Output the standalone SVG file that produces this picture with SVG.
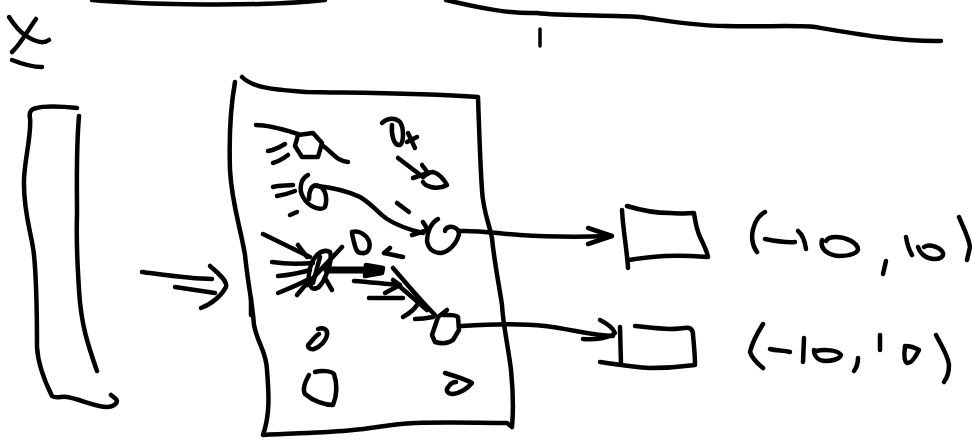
<svg xmlns="http://www.w3.org/2000/svg" width="972" height="440" viewBox="0 0 972 440">
<style>
path{fill:none;stroke:#000;stroke-width:4.5;stroke-linecap:round;stroke-linejoin:round}
.thin{stroke-width:3.5}
.fat{stroke-width:7}
.fill{fill:#000}
</style>
<rect width="972" height="440" fill="#fff"/>
<g id="top-line">
<path d="M92,0 C150,5 260,7 325,0"/>
<path d="M446,0 C480,8 510,14 537,13 C560,16 610,15 640,17 C670,21 695,26 725,26 C760,27 800,25 815,27 C850,33 900,42 941,41"/>
<path class="thin" d="M540,29 L540,46"/>
</g>
<g id="x-label">
<path d="M9,17 C15,26 20,32 25,35 C32,40 42,45 49,40"/>
<path d="M36,19 C28,30 20,45 12,52"/>
<path d="M12,60 C22,64 32,67 42,67"/>
</g>
<g id="input-vector">
<path d="M77,108 C60,106 42,106 37,108 C30,109 29,113 30,118 C32,135 23,165 24,185 C24,215 32,235 34,255 C37,285 37,320 37,347 C38,365 44,380 52,396 C56,399 62,396 67,397 C80,399 95,407 107,407 C113,407 119,403 116,399 L111,395"/>
<path d="M79,116 C76,150 77,180 77,215 C76,250 78,270 79,290 C81,325 88,345 97,371"/>
</g>
<g id="input-arrow">
<path d="M142,272 C165,275 190,279 212,279"/>
<path d="M175,287 L215,293"/>
<path d="M210,266 C218,273 228,281 226,287 C222,295 212,304 201,308"/>
</g>
<g id="panel">
<path d="M235,82 C230,110 229,140 230,170 C232,205 240,225 245,255 C248,285 252,300 254,325 C258,345 266,350 267,370 C269,395 270,415 263,435 C295,433 325,433 353,430 C375,428 390,424 415,423 C450,422 480,423 507,423 L512,427 C514,405 513,390 511,370 C508,345 503,325 502,305 C499,285 494,260 492,238 C488,220 483,210 482,190 C480,160 479,125 478,97 C420,93 360,93 307,92 C285,90 255,90 242,77"/>
<path d="M251,298 L251,315"/>
</g>
<g id="particle-hex">
<path d="M256,125 C270,125 285,130 298,134"/>
<path d="M298,135 L313,133 L322,143 L318,157 L302,157 L295,146 Z"/>
<path d="M322,145 C332,152 336,161 348,162"/>
<path d="M268,151 C275,150 280,147 285,144"/>
<path d="M273,163 C280,161 284,158 288,155"/>
</g>
<g id="particle-vk">
<path d="M382,123 C387,118 395,117 400,122 C404,128 404,142 400,145 C394,146 391,135 392,125"/>
<path d="M407,142 L417,137 M408,133 L415,148"/>
<path d="M398,158 L423,177"/>
<path d="M422,165 L428,173 L413,178"/>
<path d="M423,177 C428,173 430,172 433,172 C438,173 444,179 447,185 C442,188 435,188 431,187 C427,186 424,184 423,182"/>
</g>
<g id="particle-curl">
<path d="M273,187 C280,185 286,186 293,185"/>
<path d="M277,196 C284,195 290,193 295,191"/>
<path d="M308,175 C300,179 299,190 303,197 C309,208 322,211 325,207 C328,198 325,188 319,186 C311,183 309,192 309,199"/>
<path d="M317,186 C335,188 350,192 360,197 C372,204 378,213 387,219 C398,226 410,230 423,233"/>
<path d="M423,222 L428,230 L412,235"/>
<path d="M290,215 L297,212"/>
<path d="M397,203 L409,212"/>
</g>
<g id="particle-top-selected">
<path d="M438,219 C431,223 427,232 427,241 C428,249 434,253 441,253 C449,252 457,243 459,234 C459,229 454,226 449,227 C446,228 445,229 445,231"/>
</g>
<g id="particle-blocked">
<path d="M263,234 L310,257"/>
<path d="M298,245 L307,257"/>
<path d="M272,262 C285,264 300,264 313,263"/>
<path d="M278,276 C290,275 300,273 310,270"/>
<path d="M278,293 C290,288 300,284 307,280"/>
<path d="M297,295 L308,282"/>
<path d="M330,252 C322,248 316,255 312,262 C308,272 307,283 312,288 C318,291 323,283 326,275 C329,268 332,258 330,252 Z"/>
<path d="M342,247 C332,258 318,272 307,285"/>
<path d="M320,257 L313,283"/>
<path d="M325,278 L332,290"/>
<path class="fat" d="M327,270 L378,270"/>
<path class="fill" d="M366,265 L383,268 L382,273 L365,276 Z"/>
<path d="M352,232 C358,230 366,234 369,241 C371,248 368,254 362,253 C356,254 355,246 353,238 C352,235 352,233 352,232"/>
<path d="M403,257 L384,253 M390,248 L384,253"/>
</g>
<g id="particle-bottom-selected">
<path d="M354,281 C370,282 385,284 400,285"/>
<path d="M385,293 L400,285 L393,280"/>
<path d="M369,298 L403,298"/>
<path d="M393,268 C405,282 420,300 435,315"/>
<path d="M398,285 L427,310"/>
<path d="M403,317 C410,313 414,310 417,305"/>
<path d="M415,319 C422,319 428,318 433,317"/>
<path d="M447,310 L438,317 L432,335 L435,342 C442,344 449,343 453,340 L459,330 L458,317 C455,314 448,315 443,315"/>
</g>
<g id="particles-small">
<path d="M318,329 C323,327 328,329 327,335 C326,341 320,347 314,349 C309,350 306,346 310,343 C314,338 317,335 319,334"/>
<path d="M315,372 C322,370 331,371 334,374 C337,383 337,395 333,405 C325,405 313,401 305,394 C302,389 305,382 309,375"/>
<path d="M445,373 C455,376 465,379 472,383 C467,389 460,393 453,394 C447,394 445,390 449,386 C451,383 454,382 456,382"/>
</g>
<g id="connectors">
<path d="M459,231 C480,230 500,234 520,235 C550,237 580,237 611,236"/>
<path d="M588,228 L612,236 L588,244"/>
<path d="M462,326 C490,324 520,323 545,326 C570,329 590,335 613,336"/>
<path d="M600,320 C606,323 613,328 615,333 C610,338 595,340 583,339"/>
</g>
<g id="box-1">
<path d="M622,210 C623,230 627,250 628,268"/>
<path d="M627,206 C640,210 655,213 670,213 C680,214 688,213 694,213 C695,220 696,228 700,237 C704,245 707,251 708,257 C695,256 680,255 665,256 C650,257 640,258 629,260"/>
</g>
<g id="box-2">
<path d="M620,327 L621,364"/>
<path d="M635,326 C645,327 660,329 670,329 C680,329 686,327 689,328 C692,329 693,331 693,335 C694,345 695,355 695,365 C680,367 665,368 650,368 C630,367 615,364 600,362"/>
</g>
<g id="label-1">
<path d="M765,212 C754,218 747,238 757,252"/>
<path d="M765,239 C775,241 785,243 795,242"/>
<path d="M798,231 C803,235 805,242 806,249"/>
<path d="M822,240 C820,248 826,255 839,256 C850,256 858,253 858,249 C857,242 845,237 836,237 C830,237 827,239 826,241"/>
<path d="M886,261 L883,274"/>
<path d="M906,237 C907,243 909,250 912,255"/>
<path d="M918,247 C920,254 927,259 934,259 C940,259 944,257 943,253 C941,248 930,243 924,247"/>
<path d="M959,217 C963,227 969,238 970,247 L967,260"/>
</g>
<g id="label-2">
<path d="M763,324 C758,332 752,343 750,352 C752,358 758,364 763,368"/>
<path d="M770,349 C777,351 783,350 790,352"/>
<path d="M804,338 L803,362"/>
<path d="M814,350 C814,356 818,361 826,361 C832,361 840,359 841,355 C838,350 824,349 816,351"/>
<path d="M858,358 C858,363 857,367 854,371"/>
<path d="M880,335 L880,350"/>
<path d="M905,347 C904,354 904,361 907,363 C911,364 915,358 919,350 C914,347 909,346 905,346"/>
<path d="M936,335 C941,345 948,355 949,365 C949,372 947,378 944,382"/>
</g>
</svg>
